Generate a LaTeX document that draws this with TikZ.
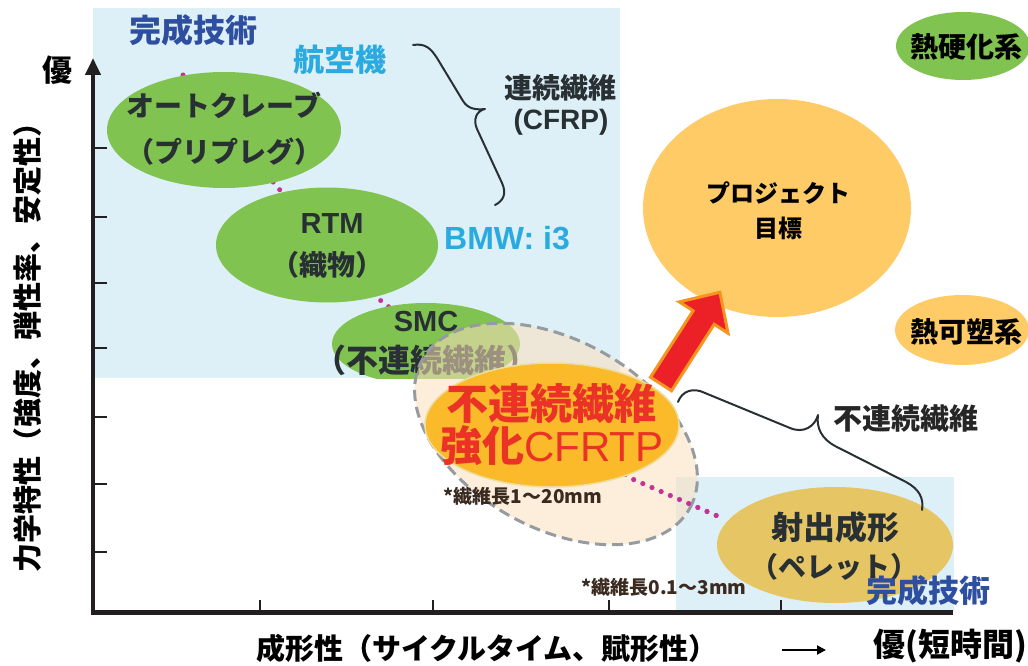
\documentclass[tikz,border=0pt]{standalone}
\usepackage{fontspec}
\setmainfont{Noto Sans CJK JP}
\newfontfamily\lat{Liberation Sans}
\usetikzlibrary{shapes.geometric,arrows.meta}
\definecolor{bgblue}{RGB}{222,240,247}
\definecolor{gell}{RGB}{128,195,80}
\definecolor{txtd}{RGB}{40,48,52}
\definecolor{dotmag}{RGB}{196,50,150}
\definecolor{peach}{RGB}{252,224,190}
\definecolor{dashg}{RGB}{150,155,160}
\definecolor{orng}{RGB}{251,186,42}
\definecolor{orngedge}{RGB}{236,222,160}
\definecolor{redt}{RGB}{234,50,38}
\definecolor{goalc}{RGB}{255,203,102}
\definecolor{injc}{RGB}{229,197,100}
\definecolor{arrred}{RGB}{236,32,39}
\definecolor{arrorg}{RGB}{247,148,29}
\definecolor{tblue}{RGB}{46,78,160}
\definecolor{lblue}{RGB}{41,171,226}
\definecolor{axisc}{RGB}{35,31,32}
\definecolor{brown}{RGB}{58,42,32}
\newcommand\nlp{\makebox[0.45em][r]{（}}
\newcommand\nrp{\makebox[0.45em][l]{）}}
\begin{document}
\begin{tikzpicture}[x=1pt,y=-1pt,
  ell/.style={ellipse, inner sep=0pt, draw=none},
  lbl/.style={inner sep=0pt, text=txtd, font=\bfseries\fontsize{#1}{#1}\selectfont},
  dots/.style={draw=dotmag, line width=5pt, line cap=round, dash pattern=on 0pt off 10pt},
  brace/.style={draw=txtd, line width=2pt, line cap=round, line join=round},
  axis/.style={draw=axisc, line width=4pt},
  tick/.style={draw=axisc, line width=2.5pt}]
\useasboundingbox (0,0) rectangle (1028,666);
\fill[white] (0,0) rectangle (1028,666);
% background zones
\fill[bgblue] (93,8) rectangle (620,378);
\fill[bgblue] (676,477) rectangle (954,612);
% dotted trend line
\coordinate (d0) at (183,75);
\coordinate (d1) at (279,189);
\coordinate (d2) at (382,302);
\coordinate (d3) at (630,478);
\coordinate (d4) at (722,518);
\draw[dots] (d0) -- (d1) -- (d2) -- (d3) -- (d4);
% axes
\coordinate (O) at (93,614);
\coordinate (ytop) at (93,58);
\coordinate (xs) at (91,612);
\coordinate (xe) at (953,612);
\draw[axis, -{Triangle[length=17pt,width=15pt]}] (O) -- (ytop);
\draw[axis, line width=5pt] (xs) -- (xe);
\foreach \yy in {148,217,283,348,417,484,552} \draw[tick] (93,\yy) -- (107,\yy);
\foreach \xx in {260,433,609,781} \draw[tick] (\xx,600) -- (\xx,612);
% green ellipses
\node[ell, fill=gell, minimum width=234pt, minimum height=116pt] (auto) at (224,130) {};
\node[lbl=28] (autoA) at (224,105) {オートクレーブ};
\node[lbl=28] (autoB) at (224,152) {（プリプレグ）};
\node[ell, fill=gell, minimum width=222pt, minimum height=115pt] (rtm) at (327,245) {};
\node[lbl=29] (rtmA) at (332,224) {\lat RTM};
\node[lbl=28] (rtmB) at (327,265) {（織物）};
\begin{scope}
\clip (93,8) rectangle (620,378);
\node[ell, fill=gell, minimum width=188pt, minimum height=82pt] (smc) at (426,344) {};
\node[lbl=29] (smcA) at (426,322) {\lat SMC};
\node[lbl=32] (smcB) at (426,360) {\nlp 不連続繊維\nrp};
\end{scope}
% texts in upper zone
\node[lbl=32, text=tblue] (done1) at (193,30) {完成技術};
\node[lbl=31, text=lblue] (aero) at (340,60) {航空機};
\node[lbl=28] (cont) at (560,88) {連続繊維};
\node[lbl=28] (cfrp) at (561,122) {\lat (CFRP)};
\node[lbl=32, text=lblue] (bmw) at (507,238) {\lat BMW: i3};
\draw[brace] (413,45) .. controls (426,43) and (431,49) .. (437,58) -- (463,101) .. controls (468,109) and (476,110) .. (485,109) .. controls (476,111) and (473,120) .. (477,129) -- (502,183) .. controls (507,194) and (503,201) .. (495,205);
% project goal
\node[ell, fill=goalc, minimum width=268pt, minimum height=218pt] (goal) at (777,208) {};
\node[lbl=24, text=black] (goalA) at (778,193) {プロジェクト};
\node[lbl=24, text=black] (goalB) at (778,228) {目標};
% legend ellipses
\node[ell, fill=gell, minimum width=134pt, minimum height=68pt] (tset) at (963,46) {};
\node[lbl=28, text=black] (tsetT) at (966,47) {熱硬化系};
\node[ell, fill=goalc, minimum width=134pt, minimum height=70pt] (tplas) at (962,330) {};
\node[lbl=28, text=black] (tplasT) at (966,332) {熱可塑系};
% injection moulding
\node[ell, fill=injc, minimum width=236pt, minimum height=116pt] (inj) at (835,545) {};
\node[lbl=32] (injA) at (835,527) {射出成形};
\node[lbl=28] (injB) at (834,567) {（ペレット）};
% discontinuous zone
\node[ell, draw=dashg, line width=3pt, dash pattern=on 11pt off 6pt, fill=peach, fill opacity=0.55, minimum width=306pt, minimum height=188pt, rotate=-29] (zone) at (556,434) {};
\begin{scope}
\clip (560,0) rectangle (760,666);
\draw[dots] (d0) -- (d1) -- (d2) -- (d3) -- (d4);
\end{scope}
\node[ell, fill=orng, draw=orngedge, line width=1.5pt, minimum width=254pt, minimum height=124pt] (cfrtp) at (552,425) {};
\node[lbl=42, text=redt] (cfA) at (551,404) {不連続繊維};
\node[lbl=42, text=redt] (cfB) at (552,446) {強化{\lat\mdseries CFRTP}};
\node[lbl=19, text=brown] (len1) at (523,496) {*繊維長1～20mm};
\node[lbl=19, text=brown] (len2) at (664,587) {*繊維長0.1～3mm};
% red arrow
\begin{scope}[shift={(661,384)}, rotate=57.3]
\filldraw[fill=arrred, draw=arrorg, line width=3pt, line join=miter] (0,-12.5) -- (79,-12.5) -- (79,-29) -- (109,0) -- (79,29) -- (79,12.5) -- (0,12.5) -- cycle;
\end{scope}
% lower brace
\draw[brace] (678,402) .. controls (682,391) and (693,387) .. (705,393) -- (790,428) .. controls (804,434) and (815,426) .. (818,415) .. controls (816,428) and (822,439) .. (835,446) -- (906,482) .. controls (919,489) and (924,498) .. (922,510);
\node[lbl=29, text=black!85] (disc) at (906,419) {不連続繊維};
\node[lbl=31, text=tblue] (done2) at (928,591) {完成技術};
% axis labels
\node[lbl=30, text=black] (best1) at (57,70) {優};
\node[lbl=29, text=black, rotate=90] (ylab) at (27,340) {力学特性（強度、弾性率、安定性）};
\node[lbl=29, text=black] (xlab) at (487,648) {成形性（サイクルタイム、賦形性）};
\coordinate (ar1) at (782,650);
\coordinate (ar2) at (826,650);
\draw[line width=2pt, -{Triangle[length=9pt,width=9pt]}] (ar1) -- (ar2);
\node[lbl=32, text=black] (best2) at (950,646) {優(短時間)};
\end{tikzpicture}
\end{document}
